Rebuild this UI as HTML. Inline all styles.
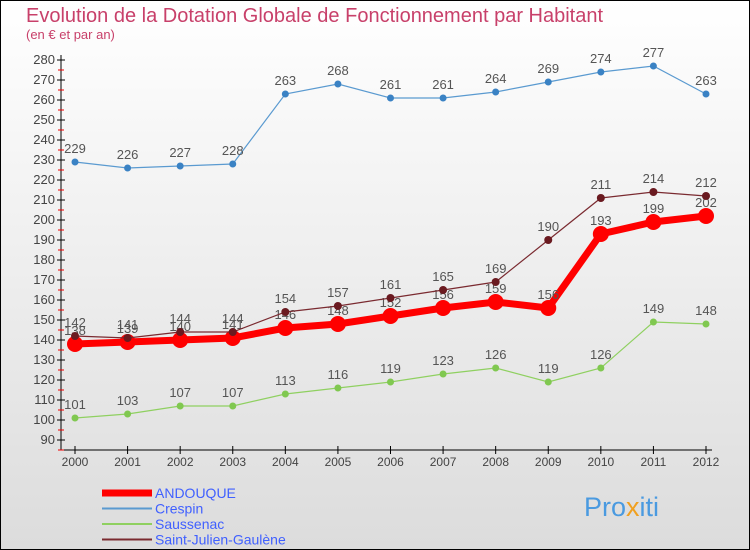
<!DOCTYPE html>
<html><head><meta charset="utf-8"><style>
body{margin:0}
svg{display:block;font-family:"Liberation Sans",sans-serif}
</style></head><body>
<svg width="750" height="550" viewBox="0 0 750 550">
<defs><linearGradient id="bg" x1="0" y1="0" x2="0" y2="1"><stop offset="0" stop-color="#ffffff"/><stop offset="1" stop-color="#dcdcdc"/></linearGradient></defs>
<rect x="0.5" y="0.5" width="749" height="549" fill="url(#bg)" stroke="#000"/>
<text x="26" y="22" font-size="20" fill="#c8406a" font-weight="normal">Evolution de la Dotation Globale de Fonctionnement par Habitant</text>
<text x="26" y="39" font-size="13" fill="#c8406a">(en € et par an)</text>
<g id="axes"></g>
<g id="plot"></g>
<g id="legend"></g>
<text x="584" y="516" font-size="27"><tspan fill="#4a9ae0">Pro</tspan><tspan fill="#f0a020">x</tspan><tspan fill="#4a9ae0">iti</tspan></text>
</svg>
<script>
const years=[2000,2001,2002,2003,2004,2005,2006,2007,2008,2009,2010,2011,2012];
const andouque=[138,139,140,141,146,148,152,156,159,156,193,199,202];
const crespin=[229,226,227,228,263,268,261,261,264,269,274,277,263];
const saussenac=[101,103,107,107,113,116,119,123,126,119,126,149,148];
const stjulien=[142,141,144,144,154,157,161,165,169,190,211,214,212];
const yTicks=[90,100,110,120,130,140,150,160,170,180,190,200,210,220,230,240,250,260,270,280];
const NS="http://www.w3.org/2000/svg";
const X=i=>75+i*(706-75)/12;
const Y=v=>60+(280-v)*2;
function mk(t,a,p){const e=document.createElementNS(NS,t);for(const k in a)e.setAttribute(k,a[k]);p.appendChild(e);return e;}
const axes=document.getElementById('axes');
const ax=mk('path',{d:`M61 55V450H712`,stroke:'#000',fill:'none'},axes);


yTicks.forEach(v=>{
 const t=mk('line',{x1:57,x2:65,y1:Y(v),y2:Y(v),stroke:'#000'},axes);
 
 
 const m=mk('line',{x1:58,x2:64,y1:Y(v)+10,y2:Y(v)+10,stroke:'#e00'},axes);
 
 
 const l=mk('text',{x:55,y:Y(v)+4,'text-anchor':'end','font-size':13,fill:'#444'},axes);
 l.textContent=v;
 
 
});
years.forEach((y,i)=>{
 const t=mk('line',{x1:X(i),x2:X(i),y1:446,y2:454,stroke:'#000'},axes);
 
 
 const l=mk('text',{x:X(i),y:466,'text-anchor':'middle','font-size':12,fill:'#444'},axes);
 l.textContent=y;
 
 
});
const plot=document.getElementById('plot');
function series(data,color,w,r,name,dot){
 const g=mk('g',{},plot);
 
 
 const p=mk('polyline',{points:data.map((v,i)=>X(i)+','+Y(v)).join(' '),fill:'none',stroke:color,'stroke-width':w},g);
 
 
 data.forEach((v,i)=>{
  const c=mk('circle',{cx:X(i),cy:Y(v),r:r,fill:dot},g);
  
  
  const t=mk('text',{x:X(i),y:Y(v)-9,'text-anchor':'middle','font-size':13,fill:'#555'},g);
  t.textContent=v;
  
  
 });
}
series(crespin,'#5a9ad0',1.2,3.5,'crespin','#3a82c4');
series(saussenac,'#8fd060',1.2,3.5,'saussenac','#80c850');
series(andouque,'#ff0000',7,8,'andouque','#ff0000');
series(stjulien,'#7a2a30',1.2,4,'saint-julien','#6a1a20');
const leg=document.getElementById('legend');
[['ANDOUQUE','#ff0000',7,'#4060ff'],['Crespin','#5a9ad0',2,'#4060ff'],['Saussenac','#8fd060',2,'#4060ff'],['Saint-Julien-Gaulène','#7a2a30',2,'#4060ff']].forEach((d,i)=>{
 const y=493+i*15.5;
 const l=mk('line',{x1:102,x2:152,y1:y,y2:y,stroke:d[1],'stroke-width':d[2]},leg);
 
 
 const t=mk('text',{x:155,y:y+5,'font-size':14,fill:d[3]},leg);
 t.textContent=d[0];
 
 
});
</script>
</body></html>
